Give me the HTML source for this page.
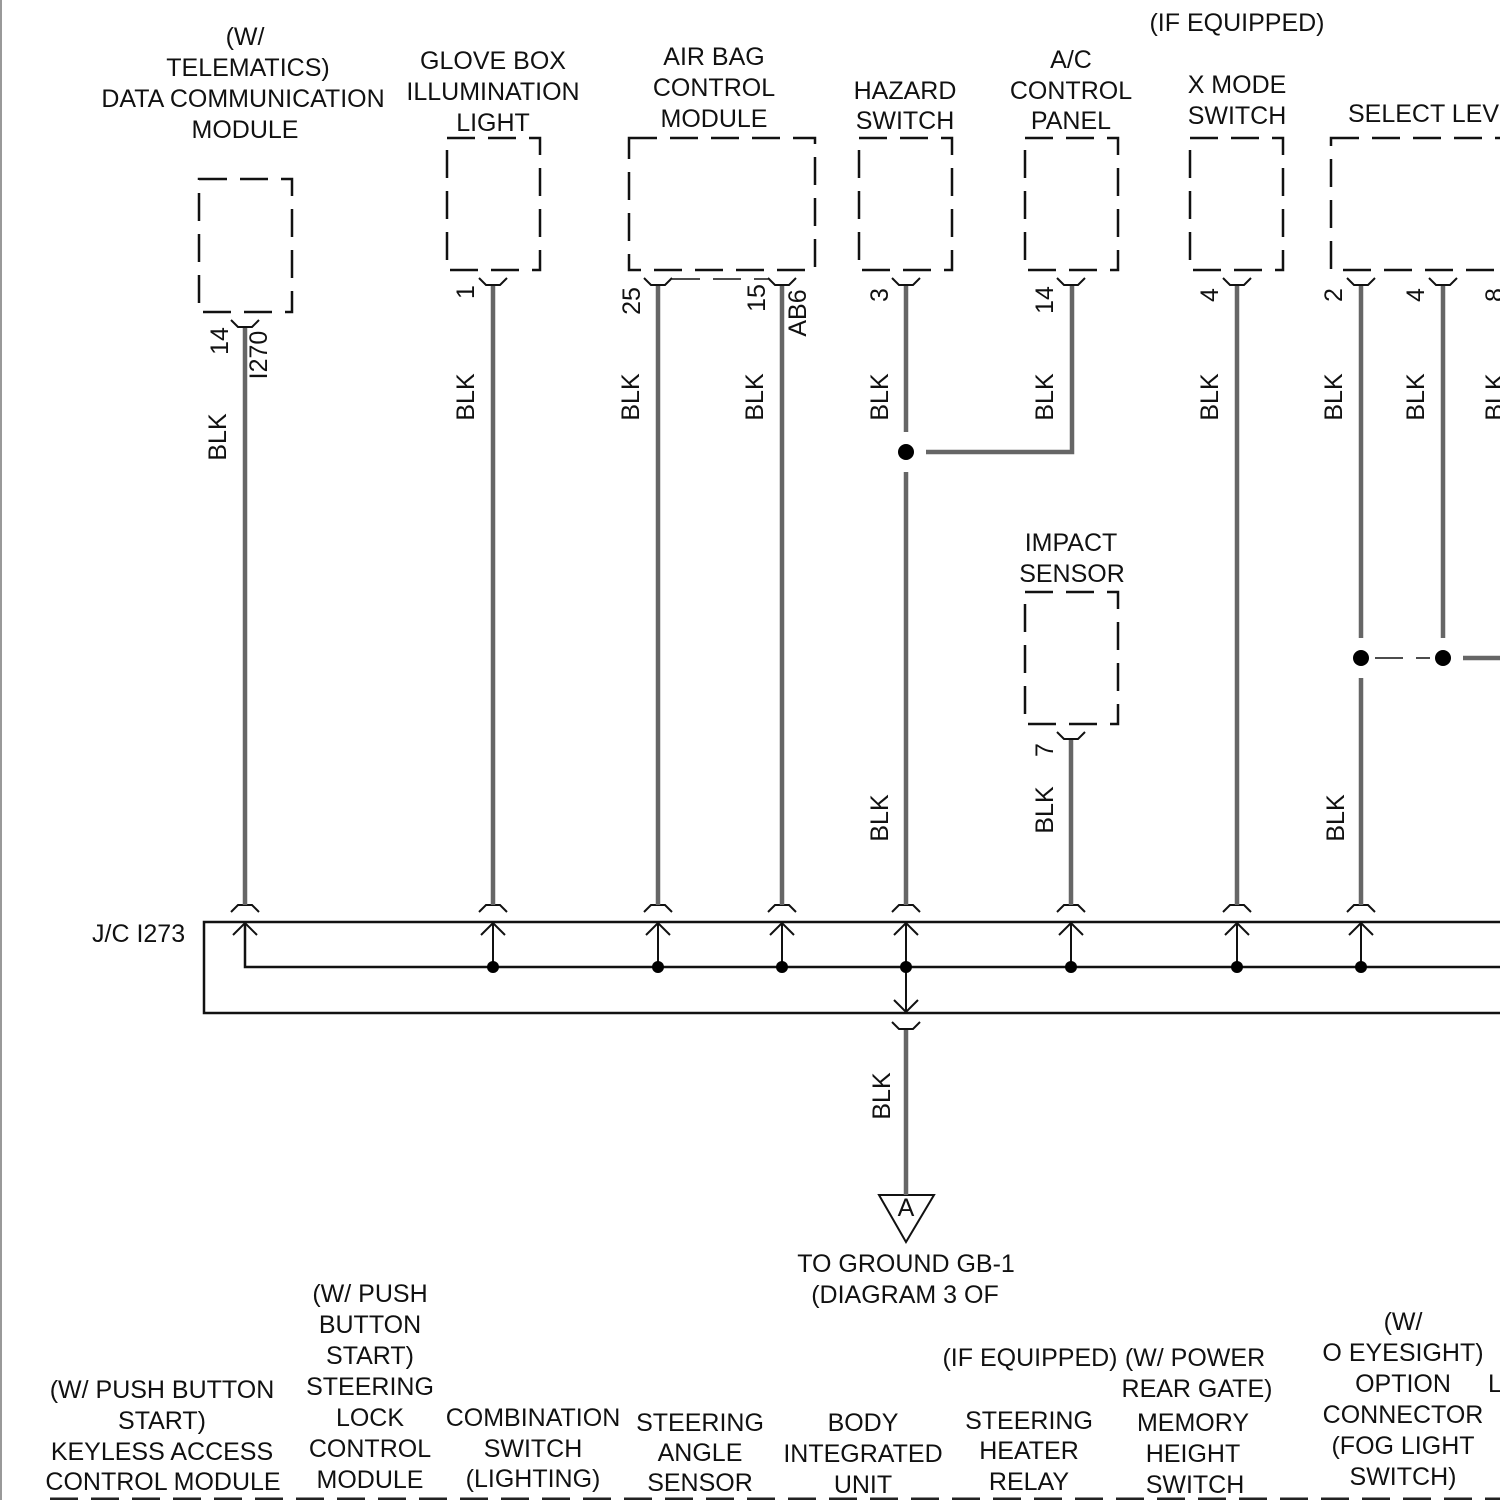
<!DOCTYPE html>
<html><head><meta charset="utf-8"><style>
html,body{margin:0;padding:0;background:#fff;}
svg{display:block;}
text{font-family:"Liberation Sans",sans-serif;font-size:25px;fill:#111;}
</style></head><body>
<svg width="1500" height="1500" viewBox="0 0 1500 1500" xmlns="http://www.w3.org/2000/svg">
<line x1="1" y1="0" x2="1" y2="1500" stroke="#999" stroke-width="2"/>
<g fill="none" stroke="#111" stroke-width="2.5" stroke-dasharray="28,13">
<rect x="199" y="179" width="93" height="133"/>
<rect x="447" y="138" width="93" height="132"/>
<rect x="629" y="138" width="186" height="132"/>
<rect x="859" y="138" width="93" height="132"/>
<rect x="1025" y="138" width="93" height="132"/>
<rect x="1190" y="138" width="93" height="132"/>
<rect x="1331" y="138" width="200" height="132"/>
<rect x="1025" y="592" width="93" height="132"/>
<line x1="672" y1="279" x2="768" y2="279" stroke-width="1.5"/>
<line x1="1375" y1="658" x2="1430" y2="658" stroke-width="1.5"/>
<line x1="50" y1="1499" x2="1500" y2="1499" stroke="#222" stroke-width="3"/>
</g>
<g fill="none" stroke="#111" stroke-width="2">
<path d="M231,320 l7,7 h14 l7,-7"/>
<path d="M479,278 l7,7 h14 l7,-7"/>
<path d="M644,278 l7,7 h14 l7,-7"/>
<path d="M768,278 l7,7 h14 l7,-7"/>
<path d="M892,278 l7,7 h14 l7,-7"/>
<path d="M1057,278 l7,7 h14 l7,-7"/>
<path d="M1223,278 l7,7 h14 l7,-7"/>
<path d="M1347,278 l7,7 h14 l7,-7"/>
<path d="M1429,278 l7,7 h14 l7,-7"/>
<path d="M1057,732 l7,7 h14 l7,-7"/>
<path d="M892,1022 l7,7 h14 l7,-7"/>
<path d="M231,912 l7,-7 h14 l7,7"/>
<path d="M479,912 l7,-7 h14 l7,7"/>
<path d="M644,912 l7,-7 h14 l7,7"/>
<path d="M768,912 l7,-7 h14 l7,7"/>
<path d="M892,912 l7,-7 h14 l7,7"/>
<path d="M1057,912 l7,-7 h14 l7,7"/>
<path d="M1223,912 l7,-7 h14 l7,7"/>
<path d="M1347,912 l7,-7 h14 l7,7"/>
<rect x="204" y="922" width="1310" height="91" stroke-width="2.5"/>
<path d="M245,923 V967 H1500" stroke-width="2.5"/>
<path d="M493,923V967 M658,923V967 M782,923V967 M906,923V1013 M1071,923V967 M1237,923V967 M1361,923V967" stroke-width="2"/>
<path d="M233,935 l12,-12 l12,12 M481,935 l12,-12 l12,12 M646,935 l12,-12 l12,12 M770,935 l12,-12 l12,12 M894,935 l12,-12 l12,12 M1059,935 l12,-12 l12,12 M1225,935 l12,-12 l12,12 M1349,935 l12,-12 l12,12 M894,1000 l12,12 l12,-12" stroke-width="2"/>
<polygon points="879,1195 934,1195 906,1242" stroke-width="2"/>
</g>
<g fill="#000">
<circle cx="493" cy="967" r="6"/><circle cx="658" cy="967" r="6"/><circle cx="782" cy="967" r="6"/><circle cx="906" cy="967" r="6"/><circle cx="1071" cy="967" r="6"/><circle cx="1237" cy="967" r="6"/><circle cx="1361" cy="967" r="6"/>
<circle cx="906" cy="452" r="8"/><circle cx="1361" cy="658" r="8"/><circle cx="1443" cy="658" r="8"/>
</g>
<g stroke="#666" stroke-width="4.5" fill="none">
<path d="M245,328V905 M493,286V905 M658,286V905 M782,286V905 M906,286V432 M906,472V905 M926,452H1072V286 M1071,740V905 M1237,286V905 M1361,286V638 M1361,678V905 M1443,286V638 M1463,658H1500 M906,1030V1195"/>
</g>
<g text-anchor="middle">
<text transform="translate(226,437) rotate(-90)">BLK</text>
<text transform="translate(474,397) rotate(-90)">BLK</text>
<text transform="translate(639,397) rotate(-90)">BLK</text>
<text transform="translate(763,397) rotate(-90)">BLK</text>
<text transform="translate(888,397) rotate(-90)">BLK</text>
<text transform="translate(888,818) rotate(-90)">BLK</text>
<text transform="translate(1053,397) rotate(-90)">BLK</text>
<text transform="translate(1053,810) rotate(-90)">BLK</text>
<text transform="translate(1218,397) rotate(-90)">BLK</text>
<text transform="translate(1342,397) rotate(-90)">BLK</text>
<text transform="translate(1344,818) rotate(-90)">BLK</text>
<text transform="translate(1424,397) rotate(-90)">BLK</text>
<text transform="translate(1503,397) rotate(-90)">BLK</text>
<text transform="translate(890,1096) rotate(-90)">BLK</text>
<text transform="translate(228,341) rotate(-90)">14</text>
<text transform="translate(267,355) rotate(-90)">I270</text>
<text transform="translate(474,292) rotate(-90)">1</text>
<text transform="translate(640,301) rotate(-90)">25</text>
<text transform="translate(765,298) rotate(-90)">15</text>
<text transform="translate(806,313) rotate(-90)">AB6</text>
<text transform="translate(888,295) rotate(-90)">3</text>
<text transform="translate(1053,300) rotate(-90)">14</text>
<text transform="translate(1218,295) rotate(-90)">4</text>
<text transform="translate(1342,295) rotate(-90)">2</text>
<text transform="translate(1424,295) rotate(-90)">4</text>
<text transform="translate(1503,295) rotate(-90)">8</text>
<text transform="translate(1053,750) rotate(-90)">7</text>
</g>
<g text-anchor="middle">
<text x="245" y="45">(W/</text><text x="248" y="76">TELEMATICS)</text><text x="243" y="107">DATA COMMUNICATION</text><text x="245" y="138">MODULE</text>
<text x="493" y="69">GLOVE BOX</text><text x="493" y="100">ILLUMINATION</text><text x="493" y="131">LIGHT</text>
<text x="714" y="65">AIR BAG</text><text x="714" y="96">CONTROL</text><text x="714" y="127">MODULE</text>
<text x="905" y="99">HAZARD</text><text x="905" y="129">SWITCH</text>
<text x="1071" y="68">A/C</text><text x="1071" y="99">CONTROL</text><text x="1071" y="129">PANEL</text>
<text x="1237" y="31">(IF EQUIPPED)</text>
<text x="1237" y="93">X MODE</text><text x="1237" y="124">SWITCH</text>
<text x="1071" y="551">IMPACT</text><text x="1072" y="582">SENSOR</text>
<text x="906" y="1216">A</text>
<text x="906" y="1272">TO GROUND GB-1</text><text x="905" y="1303">(DIAGRAM 3 OF</text>
<text x="162" y="1398">(W/ PUSH BUTTON</text><text x="162" y="1429">START)</text><text x="162" y="1460">KEYLESS ACCESS</text><text x="163" y="1490">CONTROL MODULE</text>
<text x="370" y="1302">(W/ PUSH</text><text x="370" y="1333">BUTTON</text><text x="370" y="1364">START)</text><text x="370" y="1395">STEERING</text><text x="370" y="1426">LOCK</text><text x="370" y="1457">CONTROL</text><text x="370" y="1488">MODULE</text>
<text x="533" y="1426">COMBINATION</text><text x="533" y="1457">SWITCH</text><text x="533" y="1487">(LIGHTING)</text>
<text x="700" y="1431">STEERING</text><text x="700" y="1461">ANGLE</text><text x="700" y="1491">SENSOR</text>
<text x="863" y="1431">BODY</text><text x="863" y="1462">INTEGRATED</text><text x="863" y="1493">UNIT</text>
<text x="1030" y="1366">(IF EQUIPPED)</text>
<text x="1029" y="1429">STEERING</text><text x="1029" y="1459">HEATER</text><text x="1029" y="1490">RELAY</text>
<text x="1195" y="1366">(W/ POWER</text><text x="1197" y="1397">REAR GATE)</text><text x="1193" y="1431">MEMORY</text><text x="1193" y="1462">HEIGHT</text><text x="1195" y="1493">SWITCH</text>
<text x="1403" y="1330">(W/</text><text x="1403" y="1361">O EYESIGHT)</text><text x="1403" y="1392">OPTION</text><text x="1403" y="1423">CONNECTOR</text><text x="1403" y="1454">(FOG LIGHT</text><text x="1403" y="1485">SWITCH)</text>
</g>
<text x="1348" y="122">SELECT LEVER</text>
<text x="1488" y="1392">L</text>
<text x="92" y="942">J/C I273</text>
</svg>
</body></html>
